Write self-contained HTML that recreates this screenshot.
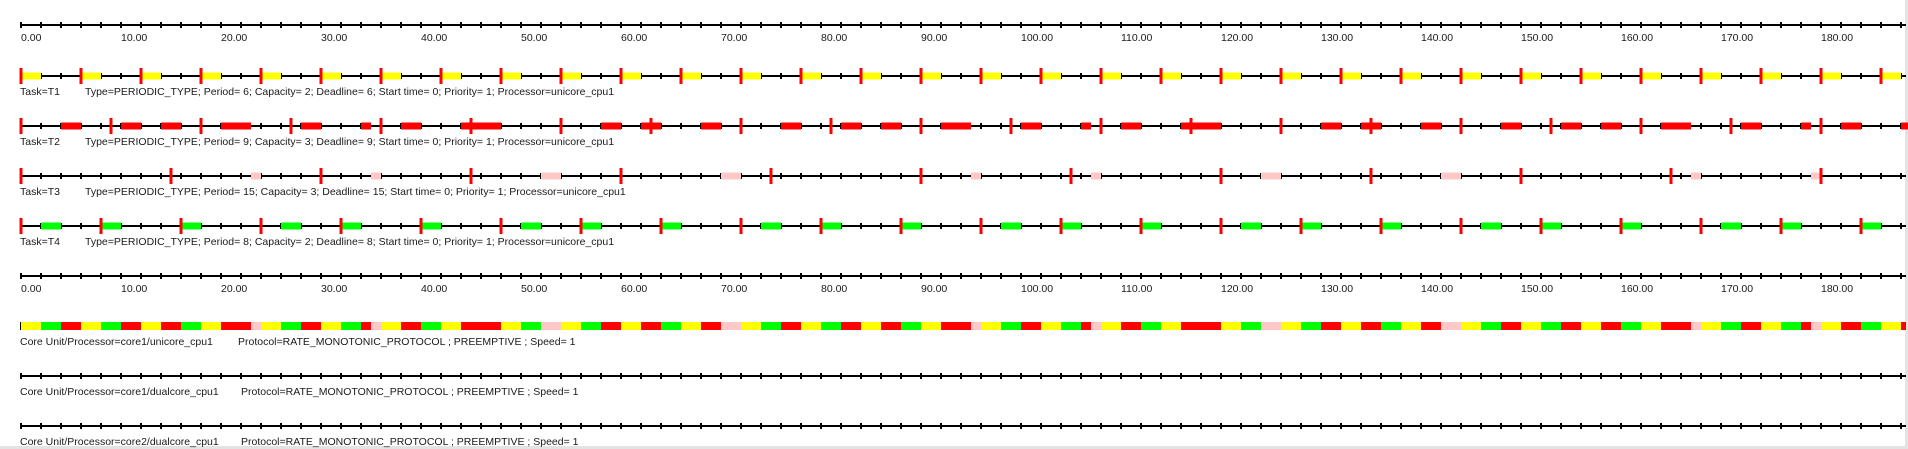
<!DOCTYPE html>
<html><head><meta charset="utf-8"><style>
html,body{margin:0;padding:0;background:#fff;width:1908px;height:449px;overflow:hidden}
svg text{font-family:"Liberation Sans",Arial,sans-serif;font-size:10.5px;fill:#1a1a1a}
</style></head><body>
<svg id="chart" width="1908" height="449" xmlns="http://www.w3.org/2000/svg">
<rect x="0" y="0" width="1908" height="449" fill="#fff"/>
<rect x="1905" y="0" width="3" height="449" fill="#e3e3e3"/>
<rect x="0" y="446" width="1908" height="3" fill="#e3e3e3"/>
</svg>
<script>
const taskNames = ["T1","T2","T3","T4"];
const taskPeriods = [6, 9, 15, 8];
const taskCapacities = [2, 3, 3, 2];
const taskColors = ["#ffff00","#ff0000","#ffc8c8","#00ff00"];
// per-unit schedule: which task (1..4) runs in each time unit
const schedule = "1144221144"+"2211224411"+"2223114422"+"1144231122"+"4411222211"+
  "4433114422"+"1122441122"+"3311442211"+"4422112244"+"1122231144"+
  "2211442311"+"2244112222"+"1144331144"+"2211224411"+"2233114422"+
  "1144221122"+"4411222311"+"4422114423"+"112244112";
const tickLabels = ["0.00","10.00","20.00","30.00","40.00","50.00","60.00","70.00","80.00","90.00","100.00","110.00","120.00","130.00","140.00","150.00","160.00","170.00","180.00"];
const coreLabels = ["Core Unit/Processor=core1/unicore_cpu1","Core Unit/Processor=core1/dualcore_cpu1","Core Unit/Processor=core2/dualcore_cpu1"];
const tMax = 188.5;

const NS = "http://www.w3.org/2000/svg";
const svg = document.getElementById("chart");
const X0 = 21, SC = 10;
const xs = t => X0 + t*SC;
function mk(tag, attrs, parent){
  const e = document.createElementNS(NS, tag);
  for (const k in attrs) e.setAttribute(k, attrs[k]);
  (parent||svg).appendChild(e);
  return e;
}
function axisLine(y, name){
  const g = mk("g", {});
  
  
  mk("rect", {x:X0, y:y-1, width:xs(tMax)-X0, height:2, fill:"#000"}, g);
  for (let t=0; t<=tMax; t+=2){
    mk("rect", {x:xs(t)-1, y:y-3, width:2, height:6, fill:"#000"}, g);
  }
  return g;
}
function tickText(y, name){
  tickLabels.forEach((lab, i) => {
    const tx = mk("text", {x:xs(i*10), y:y});
    
    
    tx.textContent = lab;
  });
}
axisLine(25, "time-axis-top");
tickText(41, "time-tick-label");

taskNames.forEach((nm, k) => {
  const y = 76 + 50*k;
  const g = axisLine(y, "task-row-" + nm.toLowerCase());
  for (let t=0; t<schedule.length; t++){
    if (+schedule[t] === k+1){
      const r = mk("rect", {x:xs(t), y:y-3.5, width:SC, height:7, fill:taskColors[k]}, g);
      
      
    }
  }
  for (let t=0; t<=tMax; t+=taskPeriods[k]){
    const m = mk("rect", {x:xs(t)-1.5, y:y-8, width:3, height:16, fill:"#ff0000"}, g);
    
    
  }
  const l1 = mk("text", {x:20, y:y+19});
  
  
  l1.textContent = "Task=" + nm;
  const l2 = mk("text", {x:85, y:y+19});
  
  
  l2.textContent = "Type=PERIODIC_TYPE; Period= " + taskPeriods[k] + "; Capacity= " + taskCapacities[k] +
    "; Deadline= " + taskPeriods[k] + "; Start time= 0; Priority= 1; Processor=unicore_cpu1";
});

axisLine(276, "time-axis-bottom");
tickText(292, "time-tick-label");

coreLabels.forEach((lab, c) => {
  const y = 326 + 50*c;
  if (c === 0){
    const g = mk("g", {});
    
    
    mk("rect", {x:X0-1, y:y-4, width:1, height:8, fill:"#000"}, g);
    for (let t=0; t<schedule.length; t++){
      const k = +schedule[t]-1;
      const r = mk("rect", {x:xs(t), y:y-4, width:Math.min(SC, xs(tMax)-xs(t)), height:8, fill:taskColors[k]}, g);
      
      
    }
  } else {
    axisLine(y, "core-axis-" + c);
  }
  const t1 = mk("text", {x:20, y:y+19});
  
  
  t1.textContent = lab;
  const t2 = mk("text", {x: c===0 ? 238 : 241, y:y+19});
  
  
  t2.textContent = "Protocol=RATE_MONOTONIC_PROTOCOL ; PREEMPTIVE ; Speed= 1";
});
</script>
</body></html>
